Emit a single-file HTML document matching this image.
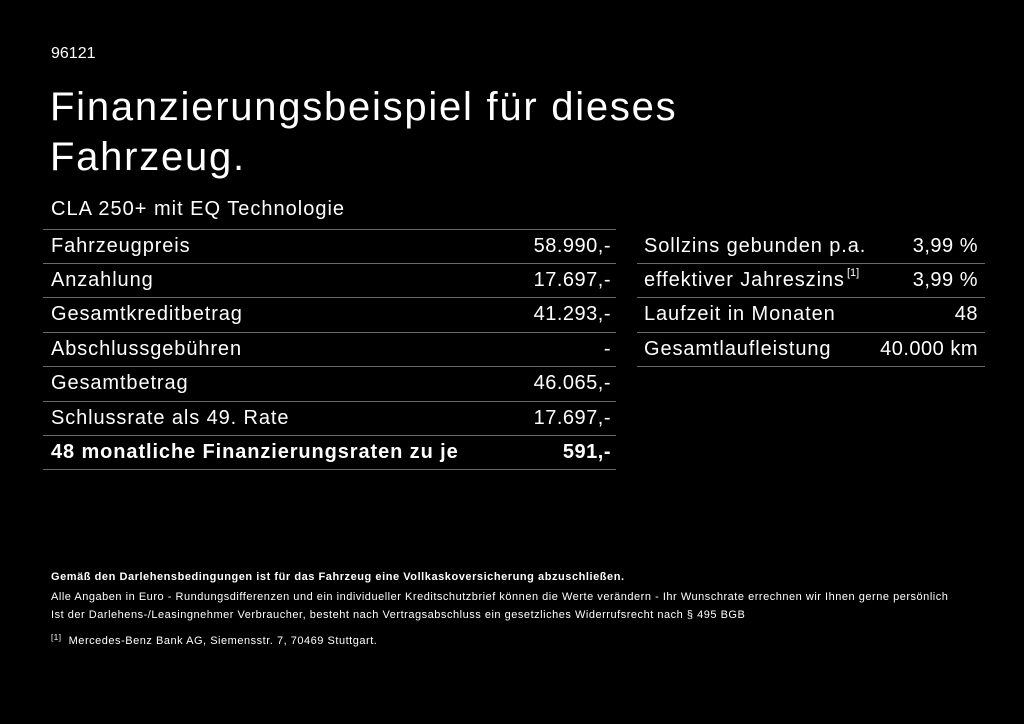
<!DOCTYPE html>
<html><head><meta charset="utf-8"><style>
body{margin:0;width:1024px;height:724px;background:#000;color:#fff;font-family:"Liberation Sans",sans-serif;position:relative;overflow:hidden}
.a{position:absolute;white-space:nowrap}
.ln{position:absolute;height:1px;background:#6a6a6a}
.r{position:absolute;font-size:20px;line-height:34px;height:34px;white-space:nowrap;letter-spacing:0.9px}
.rt{text-align:right;letter-spacing:0.5px}
.f{font-size:11px;letter-spacing:0.52px}
</style></head><body>
<div class="a" style="left:51px;top:45px;font-size:16px">96121</div>
<div class="a" style="left:50px;top:82px;font-size:40px;line-height:50px;letter-spacing:1.75px">Finanzierungsbeispiel für dieses<br>Fahrzeug.</div>
<div class="a" style="left:51px;top:198px;font-size:20px;letter-spacing:1px">CLA 250+ mit EQ Technologie</div>

<div class="ln" style="left:43px;width:573px;top:229px"></div>
<div class="ln" style="left:43px;width:573px;top:263px"></div>
<div class="ln" style="left:43px;width:573px;top:297px"></div>
<div class="ln" style="left:43px;width:573px;top:332px"></div>
<div class="ln" style="left:43px;width:573px;top:366px"></div>
<div class="ln" style="left:43px;width:573px;top:401px"></div>
<div class="ln" style="left:43px;width:573px;top:435px"></div>
<div class="ln" style="left:43px;width:573px;top:469px"></div>

<div class="r" style="left:51px;top:229px">Fahrzeugpreis</div><div class="r rt" style="right:413px;top:229px">58.990,-</div>
<div class="r" style="left:51px;top:263px">Anzahlung</div><div class="r rt" style="right:413px;top:263px">17.697,-</div>
<div class="r" style="left:51px;top:297px">Gesamtkreditbetrag</div><div class="r rt" style="right:413px;top:297px">41.293,-</div>
<div class="r" style="left:51px;top:332px">Abschlussgebühren</div><div class="r rt" style="right:413px;top:332px">-</div>
<div class="r" style="left:51px;top:366px">Gesamtbetrag</div><div class="r rt" style="right:413px;top:366px">46.065,-</div>
<div class="r" style="left:51px;top:401px">Schlussrate als 49. Rate</div><div class="r rt" style="right:413px;top:401px">17.697,-</div>
<div class="r" style="left:51px;top:435px;font-weight:bold">48 monatliche Finanzierungsraten zu je</div><div class="r rt" style="right:413px;top:435px;font-weight:bold">591,-</div>

<div class="ln" style="left:637px;width:348px;top:263px"></div>
<div class="ln" style="left:637px;width:348px;top:297px"></div>
<div class="ln" style="left:637px;width:348px;top:332px"></div>
<div class="ln" style="left:637px;width:348px;top:366px"></div>
<div class="r" style="left:644px;top:229px">Sollzins gebunden p.a.</div><div class="r rt" style="right:46px;top:229px">3,99 %</div>
<div class="r" style="left:644px;top:263px">effektiver Jahreszins</div><div class="a" style="left:847px;top:267px;font-size:11px">[1]</div><div class="r rt" style="right:46px;top:263px">3,99 %</div>
<div class="r" style="left:644px;top:297px">Laufzeit in Monaten</div><div class="r rt" style="right:46px;top:297px">48</div>
<div class="r" style="left:644px;top:332px">Gesamtlaufleistung</div><div class="r rt" style="right:46px;top:332px">40.000 km</div>

<div class="a f" style="left:51px;top:571px;font-weight:bold;letter-spacing:0.55px">Gemäß den Darlehensbedingungen ist für das Fahrzeug eine Vollkaskoversicherung abzuschließen.</div>
<div class="a f" style="left:51px;top:591px">Alle Angaben in Euro - Rundungsdifferenzen und ein individueller Kreditschutzbrief können die Werte verändern - Ihr Wunschrate errechnen wir Ihnen gerne persönlich</div>
<div class="a f" style="left:51px;top:609px">Ist der Darlehens-/Leasingnehmer Verbraucher, besteht nach Vertragsabschluss ein gesetzliches Widerrufsrecht nach § 495 BGB</div>
<div class="a f" style="left:51px;top:633px"><span style="font-size:8px;vertical-align:4px">[1]</span>&nbsp; Mercedes-Benz Bank AG, Siemensstr. 7, 70469 Stuttgart.</div>
</body></html>
